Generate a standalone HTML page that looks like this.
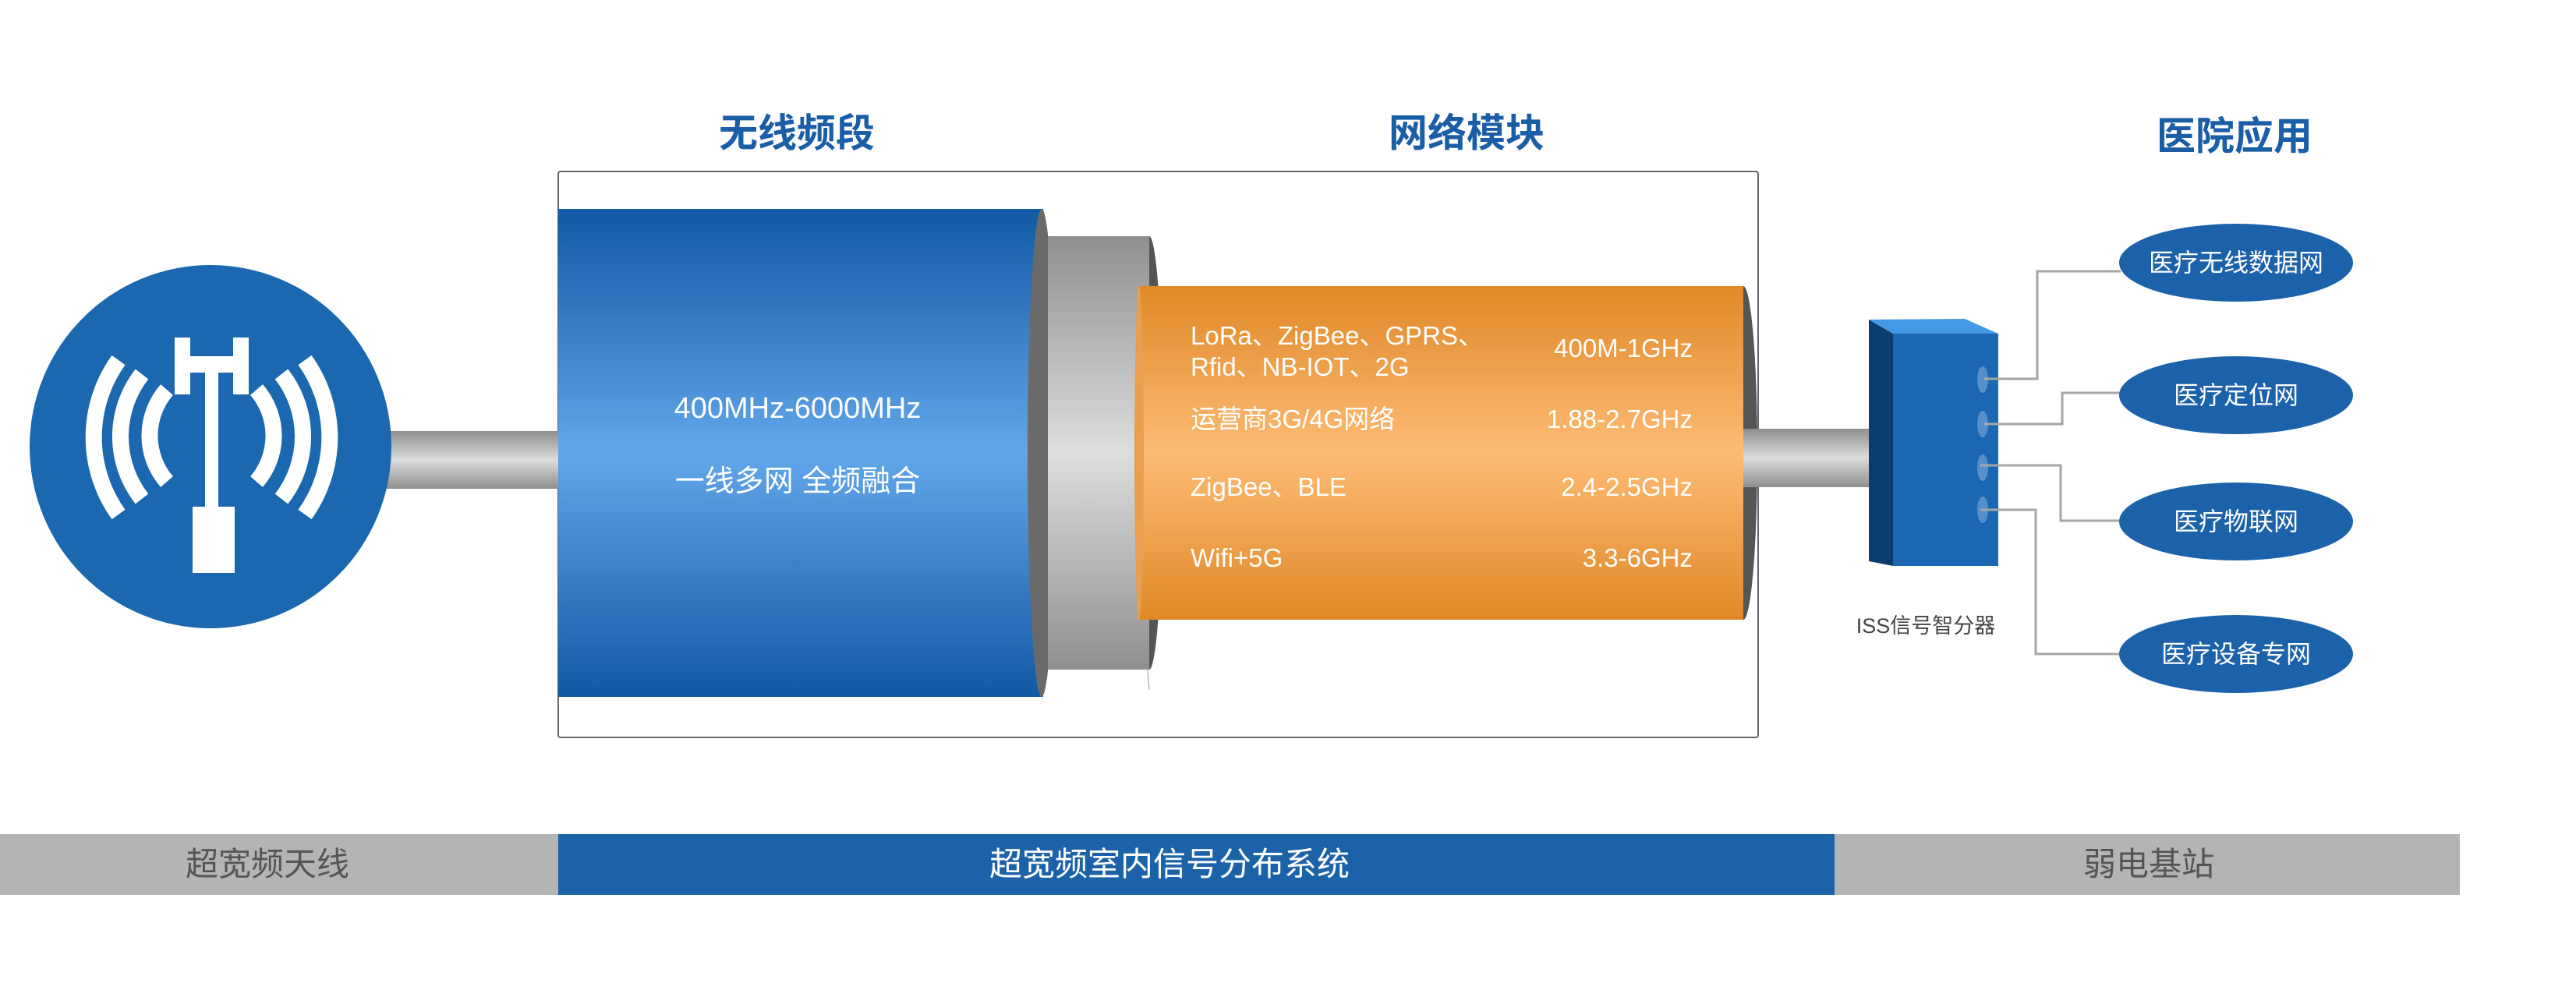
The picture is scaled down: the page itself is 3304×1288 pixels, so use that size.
<!DOCTYPE html>
<html><head><meta charset="utf-8"><style>
body{margin:0;background:#fff}
svg text{font-family:"Liberation Sans","Noto Sans CJK SC",sans-serif}
</style></head><body>
<svg width="3304" height="1283" viewBox="0 0 3304 1283" xmlns="http://www.w3.org/2000/svg">
<defs>
<linearGradient id="pipe" x1="0" y1="0" x2="0" y2="1"><stop offset="0" stop-color="#8e8e8e"/><stop offset="0.5" stop-color="#dcdcdc"/><stop offset="1" stop-color="#8e8e8e"/></linearGradient>
<linearGradient id="blue" x1="0" y1="0" x2="0" y2="1"><stop offset="0" stop-color="#1259a5"/><stop offset="0.5" stop-color="#62a6ea"/><stop offset="1" stop-color="#1259a5"/></linearGradient>
<linearGradient id="ring" x1="0" y1="0" x2="0" y2="1"><stop offset="0" stop-color="#8f8f8f"/><stop offset="0.5" stop-color="#dedede"/><stop offset="1" stop-color="#8f8f8f"/></linearGradient>
<linearGradient id="orange" x1="0" y1="0" x2="0" y2="1"><stop offset="0" stop-color="#e08826"/><stop offset="0.5" stop-color="#fdbb74"/><stop offset="1" stop-color="#e08826"/></linearGradient>
</defs>
<g font-weight="bold" fill="#1a5ea8" font-size="50" text-anchor="middle">
<text x="1022" y="188">无线频段</text>
<text x="1881" y="188">网络模块</text>
<text x="2866" y="192">医院应用</text>
</g>
<rect x="716" y="220" width="1539" height="726" fill="#fff" stroke="#666" stroke-width="2" rx="3"/>
<rect x="490" y="553" width="228" height="74" fill="url(#pipe)"/>
<ellipse cx="270" cy="573" rx="232" ry="233" fill="#1c68b0"/>
<g fill="#fff">
<rect x="224" y="433" width="20" height="73"/><rect x="299" y="433" width="20" height="73"/>
<rect x="244" y="457" width="55" height="21"/>
<rect x="263" y="478" width="17" height="175"/>
<rect x="247" y="650" width="54" height="85"/>
</g>
<g fill="none" stroke="#fff" stroke-width="21">
<path d="M 214 500 A 90 90 0 0 0 214 618"/><path d="M 329 500 A 90 90 0 0 1 329 618"/>
<path d="M 182 480 A 130 130 0 0 0 182 640"/><path d="M 361 480 A 130 130 0 0 1 361 640"/>
<path d="M 152 462 A 170 170 0 0 0 152 660"/><path d="M 391 462 A 170 170 0 0 1 391 660"/>
</g>
<rect x="716" y="268" width="622" height="626" fill="url(#blue)"/>
<text x="1023" y="536" fill="#fff" font-size="38" text-anchor="middle">400MHz-6000MHz</text>
<text x="1023" y="630" fill="#fff" font-size="38" text-anchor="middle">一线多网 全频融合</text>
<ellipse cx="1474" cy="581" rx="18" ry="278" fill="#555"/>
<rect x="1340" y="303" width="134" height="556" fill="url(#ring)"/>
<ellipse cx="1336" cy="581" rx="18" ry="313" fill="#6a6a6a"/>
<rect x="1344" y="303" width="10" height="556" fill="url(#ring)"/>
<line x1="1472" y1="859" x2="1474" y2="885" stroke="#999" stroke-width="1"/>
<ellipse cx="2236" cy="581" rx="18" ry="214" fill="#555"/>
<rect x="1461" y="367" width="775" height="428" fill="url(#orange)"/>
<ellipse cx="1461" cy="581" rx="6" ry="214" fill="#e8a050"/>
<g fill="#fff" font-size="33">
<text x="1527" y="442">LoRa、ZigBee、GPRS、</text>
<text x="1527" y="482">Rfid、NB-IOT、2G</text>
<text x="1527" y="549">运营商3G/4G网络</text>
<text x="1527" y="636">ZigBee、BLE</text>
<text x="1527" y="727">Wifi+5G</text>
</g>
<g fill="#fff" font-size="33" text-anchor="end">
<text x="2171" y="458">400M-1GHz</text>
<text x="2171" y="549">1.88-2.7GHz</text>
<text x="2171" y="636">2.4-2.5GHz</text>
<text x="2171" y="727">3.3-6GHz</text>
</g>
<rect x="2236" y="550" width="177" height="75" fill="url(#pipe)"/>
<polygon points="2397,410 2428,428 2428,726 2397,720" fill="#0b3d70"/>
<polygon points="2397,410 2520,409 2563,428 2428,428" fill="#4499e6"/>
<rect x="2428" y="428" width="135" height="298" fill="#1b67b1"/>
<g fill="#5690cc"><ellipse cx="2543" cy="487" rx="7" ry="17"/><ellipse cx="2543" cy="544" rx="7" ry="17"/><ellipse cx="2543" cy="600" rx="7" ry="17"/><ellipse cx="2543" cy="654" rx="7" ry="17"/></g>
<g fill="none" stroke="#a6a6a6" stroke-width="3">
<polyline points="2545,486 2613,486 2613,348 2720,348"/>
<polyline points="2545,544 2645,544 2645,504 2720,504"/>
<polyline points="2540,597 2643,597 2643,668 2720,668"/>
<polyline points="2540,654 2611,654 2611,839 2720,839"/>
</g>
<text x="2470" y="812" fill="#444" font-size="27" text-anchor="middle">ISS信号智分器</text>
<g fill="#1c62ab"><ellipse cx="2868" cy="337" rx="150" ry="50"/><ellipse cx="2868" cy="507" rx="150" ry="50"/><ellipse cx="2868" cy="669" rx="150" ry="50"/><ellipse cx="2868" cy="839" rx="150" ry="50"/></g>
<g fill="#fff" font-size="32" text-anchor="middle">
<text x="2868" y="348">医疗无线数据网</text>
<text x="2868" y="518">医疗定位网</text>
<text x="2868" y="680">医疗物联网</text>
<text x="2868" y="850">医疗设备专网</text>
</g>
<rect x="0" y="1070" width="716" height="78" fill="#b3b4b4"/>
<rect x="716" y="1070" width="1637" height="78" fill="#1b62a8"/>
<rect x="2353" y="1070" width="802" height="78" fill="#b3b4b4"/>
<text x="343" y="1123" fill="#555" font-size="42" text-anchor="middle">超宽频天线</text>
<text x="1500" y="1123" fill="#fff" font-size="42" text-anchor="middle">超宽频室内信号分布系统</text>
<text x="2756" y="1123" fill="#555" font-size="42" text-anchor="middle">弱电基站</text>
</svg>
</body></html>
